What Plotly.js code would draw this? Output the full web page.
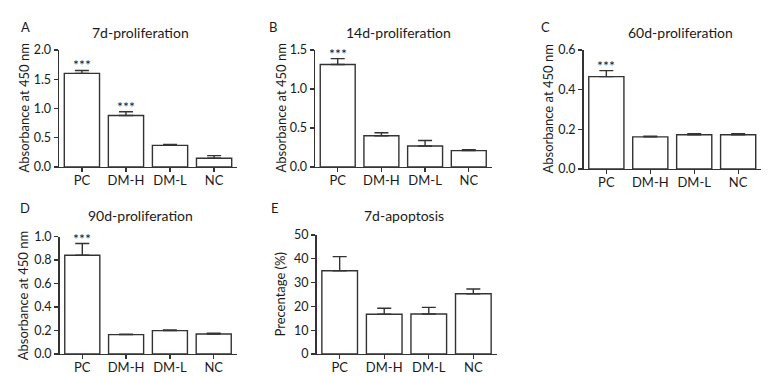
<!DOCTYPE html>
<html><head><meta charset="utf-8">
<script src="https://cdn.plot.ly/plotly-3.0.1.min.js"></script>
<style>html,body{margin:0;padding:0;background:#fff}#chart{width:775px;height:376px}</style>
</head><body><div id="chart"></div>
<script>
const categories = ["PC","DM-H","DM-L","NC"];
const panelLetters = ["A","B","C","D","E"];
const panelTitles = ["7d-proliferation","14d-proliferation","60d-proliferation","90d-proliferation","7d-apoptosis"];
const yTitles = ["Absorbance at 450 nm","Absorbance at 450 nm","Absorbance at 450 nm","Absorbance at 450 nm","Precentage (%)"];
const valuesA = [1.60, 0.88, 0.37, 0.15];
const errorsA = [0.05, 0.065, 0.015, 0.045];
const valuesB = [1.315, 0.40, 0.27, 0.21];
const errorsB = [0.075, 0.04, 0.07, 0.012];
const valuesC = [0.466, 0.162, 0.173, 0.173];
const errorsC = [0.03, 0.003, 0.005, 0.005];
const valuesD = [0.84, 0.165, 0.199, 0.17];
const errorsD = [0.10, 0.004, 0.006, 0.008];
const valuesE = [35.0, 16.7, 16.8, 25.3];
const errorsE = [5.9, 2.5, 2.8, 2.0];
const stars = [["***","***","",""],["***","","",""],["***","","",""],["***","","",""],["","","",""]];
const yMax = [2.0, 1.5, 0.6, 1.0, 50];
const yDtick = [0.5, 0.5, 0.2, 0.2, 10];
const yFormat = [".1f",".1f",".1f",".1f","d"];

const allValues = [valuesA, valuesB, valuesC, valuesD, valuesE];
const allErrors = [errorsA, errorsB, errorsC, errorsD, errorsE];

const W = 775, H = 376;
const boxes = [
  [59, 237, 50, 167],
  [315, 491.5, 50, 167],
  [583.5, 761, 50, 169],
  [59.5, 236.5, 236.5, 354],
  [316.5, 496.5, 235, 354]
];
const labelPos = [[25,27],[273,27],[545,27],[25,208],[275,208]];
const titlePos = [[140,33],[398,33],[680,33],[140,215],[404,215]];
const yTitleX = [23, 280, 547, 23, 279];

const FONT = "Lato, 'Open Sans', sans-serif";
const TXT = "#1a1a1a";
const data = [];
const layout = {
  width: W, height: H,
  margin: {l:0, r:0, t:0, b:0},
  paper_bgcolor: "#fff", plot_bgcolor: "#fff",
  showlegend: false,
  font: {family: FONT, size: 13, color: TXT},
  annotations: []
};

for (let i = 0; i < 5; i++) {
  const sfx = i === 0 ? "" : String(i + 1);
  const b = boxes[i];
  data.push({
    type: "bar",
    x: categories,
    y: allValues[i],
    xaxis: "x" + sfx, yaxis: "y" + sfx,
    marker: {color: "#ffffff", line: {color: "#333333", width: 1.4}},
    error_y: {type: "data", symmetric: false, array: allErrors[i], arrayminus: allErrors[i].map(() => 0),
              color: "#333333", thickness: 1.4, width: 7},
    hoverinfo: "none"
  });
  layout["xaxis" + sfx] = {
    domain: [b[0] / W, b[1] / W],
    anchor: "y" + sfx,
    range: [-0.52, 3.52],
    showline: true, linecolor: "#333333", linewidth: 1.4,
    ticks: "outside", ticklen: 4, tickwidth: 1.3, tickcolor: "#333333",
    ticklabelstandoff: -3,
    showgrid: false, zeroline: false,
    tickfont: {family: FONT, size: 13, color: TXT},
    fixedrange: true
  };
  layout["yaxis" + sfx] = {
    domain: [(H - b[3]) / H, (H - b[2]) / H],
    anchor: "x" + sfx,
    range: [0, yMax[i]],
    dtick: yDtick[i], tick0: 0, tickformat: yFormat[i],
    showline: true, linecolor: "#333333", linewidth: 1.4,
    ticks: "outside", ticklen: 4, tickwidth: 1.3, tickcolor: "#333333",
    showgrid: false, zeroline: false,
    tickfont: {family: FONT, size: 12.5, color: TXT},
    fixedrange: true
  };
  layout.annotations.push({
    xref: "x" + sfx + " domain", yref: "y" + sfx + " domain",
    x: (yTitleX[i] - b[0]) / (b[1] - b[0]), y: 0.5,
    text: yTitles[i], showarrow: false, textangle: -90, xanchor: "center", yanchor: "middle",
    font: {family: FONT, size: 13, color: TXT}
  });
  layout.annotations.push({
    xref: "paper", yref: "paper", x: labelPos[i][0] / W, y: (H - labelPos[i][1]) / H,
    text: panelLetters[i], showarrow: false, xanchor: "center", yanchor: "middle",
    font: {family: FONT, size: 13, color: TXT}
  });
  layout.annotations.push({
    xref: "paper", yref: "paper", x: titlePos[i][0] / W, y: (H - titlePos[i][1]) / H,
    text: panelTitles[i], showarrow: false, xanchor: "center", yanchor: "middle",
    font: {family: FONT, size: 14, color: TXT}
  });
  for (let j = 0; j < 4; j++) {
    if (!stars[i][j]) continue;
    layout.annotations.push({
      xref: "x" + sfx, yref: "y" + sfx, x: categories[j], y: allValues[i][j] + allErrors[i][j],
      text: stars[i][j], showarrow: false, xanchor: "center", yanchor: "bottom", yshift: -5,
      font: {family: FONT, size: 14, color: TXT}
    });
  }
}

Plotly.newPlot("chart", data, layout, {staticPlot: true, displayModeBar: false});
</script>
</body></html>
